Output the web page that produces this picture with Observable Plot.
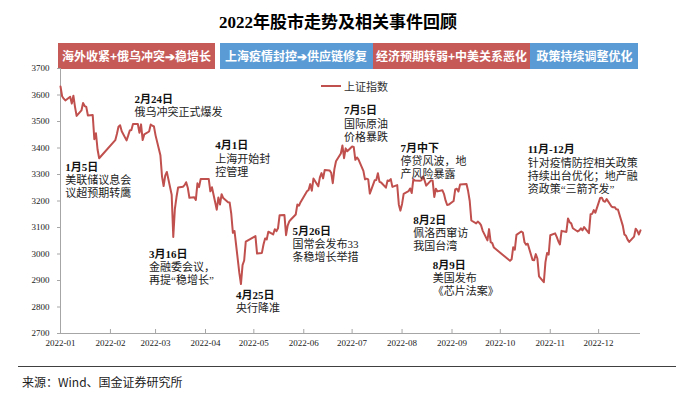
<!DOCTYPE html>
<html><head><meta charset="utf-8">
<script src="https://cdn.jsdelivr.net/npm/d3@7"></script>
<script src="https://cdn.jsdelivr.net/npm/@observablehq/plot@0.6"></script>
<style>
body{margin:0;background:#fff;}
#wrap{position:relative;width:676px;height:397px;overflow:hidden;font-family:"Noto Sans CJK SC",sans-serif;}
#title{position:absolute;left:0;top:12px;width:676px;text-align:center;font-weight:bold;font-size:17px;font-family:"Liberation Serif","Noto Sans CJK SC",serif;line-height:22px;color:#000;}
.band{position:absolute;top:43px;height:26px;line-height:26px;text-align:center;color:#fff;font-size:12px;font-weight:bold;white-space:nowrap;overflow:hidden;}
#chart{position:absolute;left:0;top:58px;}
#legend{position:absolute;left:321px;top:79px;height:14px;display:flex;align-items:center;font-size:11px;color:#333;white-space:nowrap;}
#legend .sw{display:inline-block;width:20px;height:2px;background:#C0504D;margin-right:3px;}
#rule{position:absolute;left:18px;top:366px;width:658px;height:0;border-top:1.3px solid #404040;}
#source{position:absolute;left:22px;top:373px;font-size:12px;line-height:17px;color:#222;white-space:nowrap;}
</style></head>
<body>
<div id="wrap">
  <div id="title"></div>
  <div id="bands"></div>
  <div id="chart"></div>
  <div id="legend"><span class="sw"></span><span id="legendText"></span></div>
  <div id="rule"></div>
  <div id="source"></div>
</div>
<script>
// ---------------- data ----------------
const titleText = "2022年股市走势及相关事件回顾";
const seriesName = "上证指数";
const sourceText = "来源：Wind、国金证券研究所";

const tradingDays = [
"01-04","01-05","01-06","01-07","01-10","01-11","01-12","01-13","01-14","01-17","01-18","01-19","01-20","01-21","01-24","01-25","01-26","01-27","01-28",
"02-07","02-08","02-09","02-10","02-11","02-14","02-15","02-16","02-17","02-18","02-21","02-22","02-23","02-24","02-25","02-28",
"03-01","03-02","03-03","03-04","03-07","03-08","03-09","03-10","03-11","03-14","03-15","03-16","03-17","03-18","03-21","03-22","03-23","03-24","03-25","03-28","03-29","03-30","03-31",
"04-01","04-06","04-07","04-08","04-11","04-12","04-13","04-14","04-15","04-18","04-19","04-20","04-21","04-22","04-25","04-26","04-27","04-28","04-29",
"05-05","05-06","05-09","05-10","05-11","05-12","05-13","05-16","05-17","05-18","05-19","05-20","05-23","05-24","05-25","05-26","05-27","05-30","05-31",
"06-01","06-02","06-06","06-07","06-08","06-09","06-10","06-13","06-14","06-15","06-16","06-17","06-20","06-21","06-22","06-23","06-24","06-27","06-28","06-29","06-30",
"07-01","07-04","07-05","07-06","07-07","07-08","07-11","07-12","07-13","07-14","07-15","07-18","07-19","07-20","07-21","07-22","07-25","07-26","07-27","07-28","07-29",
"08-01","08-02","08-03","08-04","08-05","08-08","08-09","08-10","08-11","08-12","08-15","08-16","08-17","08-18","08-19","08-22","08-23","08-24","08-25","08-26","08-29","08-30","08-31",
"09-01","09-02","09-05","09-06","09-07","09-08","09-09","09-13","09-14","09-15","09-16","09-19","09-20","09-21","09-22","09-23","09-26","09-27","09-28","09-29","09-30",
"10-10","10-11","10-12","10-13","10-14","10-17","10-18","10-19","10-20","10-21","10-24","10-25","10-26","10-27","10-28","10-31",
"11-01","11-02","11-03","11-04","11-07","11-08","11-09","11-10","11-11","11-14","11-15","11-16","11-17","11-18","11-21","11-22","11-23","11-24","11-25","11-28","11-29","11-30",
"12-01","12-02","12-05","12-06","12-07","12-08","12-09","12-12","12-13","12-14","12-15","12-16","12-19","12-20","12-21","12-22","12-23","12-26","12-27","12-28","12-29","12-30"
];

const closes = [
3632.33,3595.18,3586.08,3579.54,3593.52,3567.44,3597.43,3555.26,3521.26,3541.67,3569.91,3558.18,3555.06,3522.57,3524.11,3433.06,3455.67,3394.25,3361.44,
3429.58,3452.63,3479.95,3485.91,3462.95,3428.88,3446.65,3465.83,3468.04,3490.76,3490.61,3457.15,3489.15,3429.96,3451.41,3462.31,
3488.83,3484.19,3481.11,3447.65,3372.86,3293.53,3256.39,3296.09,3309.75,3223.53,3063.97,3170.71,3215.04,3251.07,3253.69,3259.86,3271.03,3250.26,3212.24,3214.50,3203.94,3266.60,3252.20,
3282.72,3283.43,3236.70,3251.85,3167.13,3213.33,3186.82,3225.64,3211.24,3195.52,3194.03,3151.05,3079.81,3086.92,2928.51,2886.43,2958.28,2975.48,3047.06,
3067.76,3001.56,3004.14,3035.84,3058.70,3054.99,3084.28,3073.75,3093.70,3085.98,3096.96,3146.57,3146.86,3070.93,3107.46,3123.11,3130.24,3149.06,3186.43,
3182.16,3195.46,3236.37,3241.76,3263.79,3238.95,3284.83,3255.55,3288.91,3305.41,3285.38,3316.79,3315.43,3306.72,3267.20,3320.15,3349.75,3379.19,3409.21,3361.52,3398.62,
3387.64,3405.43,3404.03,3355.35,3364.40,3356.08,3313.58,3281.47,3284.29,3281.74,3228.06,3278.10,3279.43,3304.72,3272.00,3269.97,3250.39,3277.44,3275.76,3282.58,3253.24,
3259.96,3186.27,3163.67,3189.04,3227.03,3236.93,3247.43,3230.02,3281.67,3276.89,3276.09,3277.89,3292.53,3277.54,3258.08,3277.79,3276.22,3215.20,3246.25,3236.22,3240.73,3227.22,3202.14,
3184.98,3186.48,3199.91,3243.45,3246.29,3235.59,3262.05,3263.80,3237.54,3199.92,3126.40,3115.60,3122.41,3117.18,3108.91,3088.37,3051.23,3093.86,3045.07,3041.20,3024.39,
2974.15,2979.79,3025.51,3016.36,3071.99,3084.94,3080.96,3044.38,3035.05,3038.93,2977.56,2976.28,2999.50,2982.90,2915.93,2893.48,
2969.20,3003.37,2997.81,3070.80,3077.82,3064.49,3048.17,3036.13,3087.29,3083.40,3134.08,3119.98,3115.43,3097.24,3085.04,3088.94,3096.91,3089.31,3101.69,3078.55,3149.75,3151.34,
3165.47,3156.14,3211.81,3212.53,3199.62,3197.35,3206.95,3179.04,3176.33,3176.53,3168.65,3167.86,3107.12,3073.77,3068.41,3054.43,3045.87,3065.56,3095.57,3087.40,3073.70,3089.26
];

const tickMonths = ["01","02","03","04","05","06","07","08","09","10","11","12"];
const tickLabels = ["2022-01","2022-02","2022-03","2022-04","2022-05","2022-06","2022-07","2022-08","2022-09","2022-10","2022-11","2022-12"];
const yTicks = [2700,2800,2900,3000,3100,3200,3300,3400,3500,3600,3700];

const bandLabels = ["海外收紧+俄乌冲突➔稳增长","上海疫情封控➔供应链修复","经济预期转弱+中美关系恶化","政策持续调整优化"];
const bandStarts = ["01-03","04-13","07-17","10-23"];
const bandEnds = ["04-10","07-17","10-23","12-29"];
const bandKinds = ["red","blue","red","blue"];

const annHeads = ["1月5日","2月24日","3月16日","4月1日","4月25日","5月26日","7月5日","7月中下","8月2日","8月9日","11月-12月"];
const annBodies = [
"美联储议息会\n议超预期转鹰",
"俄乌冲突正式爆发",
"金融委会议，\n再提“稳增长”",
"上海开始封\n控管理",
"央行降准",
"国常会发布33\n条稳增长举措",
"国际原油\n价格暴跌",
"停贷风波，地\n产风险暴露",
"佩洛西窜访\n我国台湾",
"美国发布\n《芯片法案》",
"针对疫情防控相关政策\n持续出台优化；地产融\n资政策“三箭齐发”"
];
const annDates = ["01-07","02-19","02-28","04-10","04-23","05-28","06-29","08-03","08-11","08-23","10-21"];
const annValues = [3334,3589,3007,3415,2851,3092,3547,3406,3135,2964,3400];

// ---------------- build ----------------
const parse = d3.utcParse("%Y-%m-%d");
const data = tradingDays.map((d, i) => ({date: parse("2022-" + d), close: closes[i]}));
const xTicks = tickMonths.map(m => parse("2022-" + m + "-04"));
const tickLabelOf = new Map(xTicks.map((d, i) => [+d, tickLabels[i]]));
const annos = annHeads.map((h, i) => ({
  text: h + "\n" + annBodies[i],
  date: parse("2022-" + annDates[i]),
  value: annValues[i]
}));

const LINE = "#C0504D";
const AXIS = "#A6A6A6";
const SERIF = "'Liberation Serif','Noto Sans CJK SC',serif";
const bandColor = {red: "#C65A57", blue: "#5B9BD5"};

const chart = Plot.plot({
  width: 676,
  height: 302,
  marginTop: 10,
  marginBottom: 27,
  marginLeft: 60,
  marginRight: 36,
  style: {fontFamily: SERIF, fontSize: "9px", color: "#222", background: "transparent"},
  x: {type: "utc", domain: [data[0].date, data[data.length - 1].date], label: null},
  y: {domain: [2700, 3700], label: null},
  marks: [
    Plot.ruleY([2700], {stroke: AXIS, strokeWidth: 1}),
    Plot.ruleX([data[0].date], {stroke: AXIS, strokeWidth: 1}),
    Plot.ruleX(xTicks, {stroke: AXIS, insetTop: 261}),
    Plot.axisX({ticks: xTicks, tickFormat: d => tickLabelOf.get(+d), tickSize: 0, tickPadding: 6, fontSize: 9}),
    Plot.axisY({ticks: yTicks, tickFormat: d => String(d), tickSize: 3, tickPadding: 8, stroke: AXIS, fontSize: 9}),
    Plot.lineY(data, {x: "date", y: "close", stroke: LINE, strokeWidth: 2}),
    Plot.text(annos, {x: "date", y: "value", text: "text", textAnchor: "start", lineAnchor: "top", dy: -4,
      fontSize: 11, lineHeight: 1.2, fill: "#222", fontFamily: SERIF})
  ]
});

// first line of each annotation (the date) is set in bold
chart.querySelectorAll('g[aria-label="text"] text').forEach(t => {
  const first = t.querySelector("tspan");
  if (first) {
    first.setAttribute("font-weight", "bold");
    first.setAttribute("fill", "#111");
  }
});
document.getElementById("chart").appendChild(chart);

// title, legend, source
document.getElementById("title").textContent = titleText;
document.getElementById("legendText").textContent = seriesName;
document.getElementById("source").textContent = sourceText;

// period banners positioned through the chart's x scale
const xs = chart.scale("x");
const bandsDiv = document.getElementById("bands");
bandLabels.forEach((lab, i) => {
  const x1 = xs.apply(parse("2022-" + bandStarts[i]));
  const x2 = xs.apply(parse("2022-" + bandEnds[i]));
  const el = document.createElement("div");
  el.className = "band";
  el.style.left = x1 + "px";
  el.style.width = (x2 - x1) + "px";
  el.style.background = bandColor[bandKinds[i]];
  el.textContent = lab;
  bandsDiv.appendChild(el);
});
</script>
</body></html>
